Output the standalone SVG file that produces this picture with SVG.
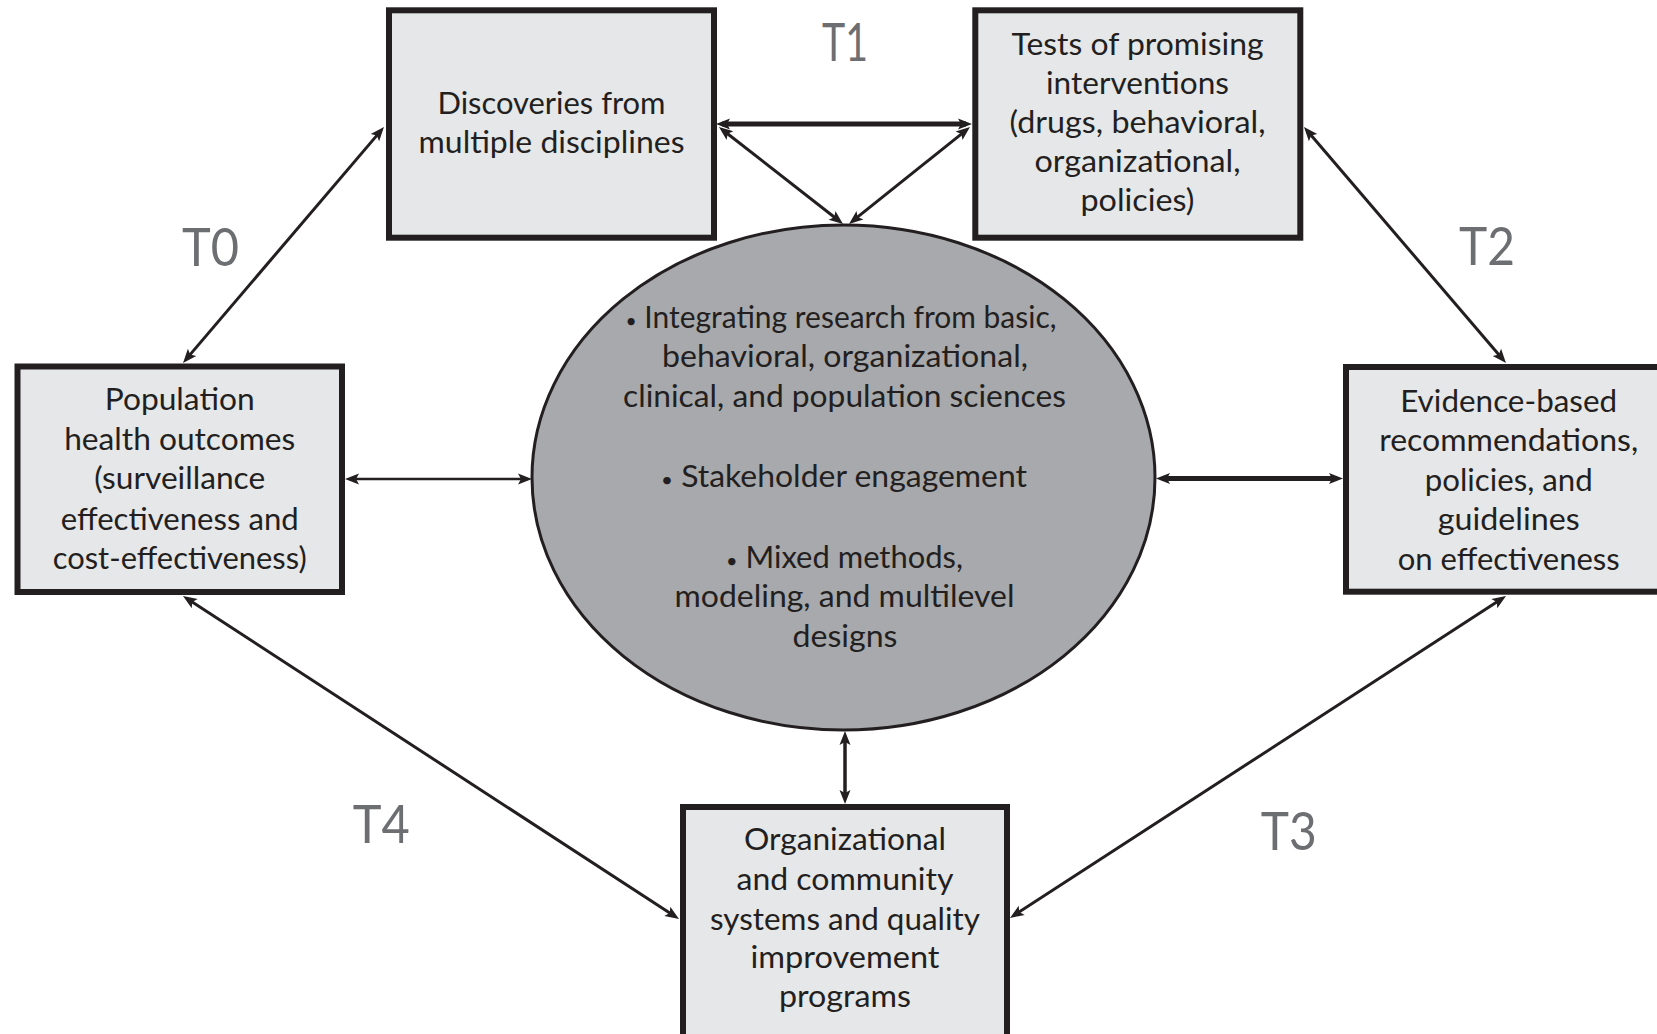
<svg xmlns="http://www.w3.org/2000/svg" width="1657" height="1034" viewBox="0 0 1657 1034">
  <style>
    .box { fill: #e6e7e8; stroke: #231f20; stroke-width: 6; }
    .hub { fill: #a7a9ac; stroke: #231f20; stroke-width: 3; }
    .lbl { font-family: Lato, "Open Sans", "Liberation Sans", sans-serif; font-size: 31px; fill: #231f20; text-anchor: middle; }
    .dot { font-size: 20px; }
    .phase { font-family: Lato, "Open Sans", "Liberation Sans", sans-serif; font-size: 53px; fill: #6d6e71; text-anchor: middle; }
    .link { stroke: #231f20; fill: none; marker-start: url(#tip); marker-end: url(#tip); }
  </style>
  <defs>
    <marker id="tip" markerUnits="userSpaceOnUse" viewBox="-9 -7 18 14" markerWidth="18" markerHeight="14" refX="0" refY="0" orient="auto-start-reverse">
      <path d="M6,0 L-8,-5.5 L-5,0 L-8,5.5 Z" fill="#231f20"/>
    </marker>
  </defs>
  <rect width="1657" height="1034" fill="#ffffff"/>

  <!-- connectors -->
  <g id="connectors">
    <line class="link" x1="722" y1="124" x2="966" y2="124" stroke-width="5"/>
    <line class="link" x1="723.7" y1="130.7" x2="838.3" y2="220.3" stroke-width="3"/>
    <line class="link" x1="965.3" y1="130.8" x2="853.7" y2="220.2" stroke-width="3"/>
    <line class="link" x1="380.1" y1="131.6" x2="186.9" y2="358.4" stroke-width="3"/>
    <line class="link" x1="1307.9" y1="131.6" x2="1502.1" y2="358.4" stroke-width="3"/>
    <line class="link" x1="351" y1="479" x2="526" y2="479" stroke-width="2.5"/>
    <line class="link" x1="1162" y1="478.5" x2="1337" y2="478.5" stroke-width="5"/>
    <line class="link" x1="845" y1="737" x2="845" y2="798" stroke-width="3.5"/>
    <line class="link" x1="188" y1="599.3" x2="674" y2="915.7" stroke-width="3"/>
    <line class="link" x1="1501" y1="599.3" x2="1015" y2="914.7" stroke-width="3"/>
  </g>

  <!-- phase labels -->
  <g id="phases">
    <text class="phase" x="210.5" y="266" textLength="57" lengthAdjust="spacingAndGlyphs">T0</text>
    <text class="phase" x="845" y="61" textLength="46" lengthAdjust="spacingAndGlyphs">T1</text>
    <text class="phase" x="1487" y="265" textLength="56" lengthAdjust="spacingAndGlyphs">T2</text>
    <text class="phase" x="1288.7" y="850" textLength="56" lengthAdjust="spacingAndGlyphs">T3</text>
    <text class="phase" x="381.3" y="843.3" textLength="57" lengthAdjust="spacingAndGlyphs">T4</text>
  </g>

  <!-- central hub -->
  <g id="hub">
    <ellipse class="hub" cx="843.5" cy="477.5" rx="311.5" ry="252.5"/>
    <text class="lbl" x="841" y="328.3" textLength="431" lengthAdjust="spacingAndGlyphs"><tspan class="dot">•</tspan> Integrating research from basic,</text>
    <text class="lbl" x="845" y="366.7" textLength="366" lengthAdjust="spacingAndGlyphs">behavioral, organizational,</text>
    <text class="lbl" x="844.5" y="406.7" textLength="443" lengthAdjust="spacingAndGlyphs">clinical, and population sciences</text>
    <text class="lbl" x="844" y="486.7" textLength="366" lengthAdjust="spacingAndGlyphs"><tspan class="dot">•</tspan> Stakeholder engagement</text>
    <text class="lbl" x="844.5" y="568" textLength="237" lengthAdjust="spacingAndGlyphs"><tspan class="dot">•</tspan> Mixed methods,</text>
    <text class="lbl" x="844.5" y="606.7" textLength="340" lengthAdjust="spacingAndGlyphs">modeling, and multilevel</text>
    <text class="lbl" x="845" y="646.7" textLength="105" lengthAdjust="spacingAndGlyphs">designs</text>
  </g>

  <g id="discoveries">
    <rect class="box" x="389" y="10.3" width="325" height="227.4"/>
    <text class="lbl" x="551.5" y="113.5" textLength="228" lengthAdjust="spacingAndGlyphs">Discoveries from</text>
    <text class="lbl" x="551.5" y="152.5" textLength="266" lengthAdjust="spacingAndGlyphs">multiple disciplines</text>
  </g>

  <g id="tests">
    <rect class="box" x="975.3" y="10.3" width="325" height="227.4"/>
    <text class="lbl" x="1137.5" y="54.5" textLength="252" lengthAdjust="spacingAndGlyphs">Tests of promising</text>
    <text class="lbl" x="1137.5" y="93.8" textLength="183" lengthAdjust="spacingAndGlyphs">interventions</text>
    <text class="lbl" x="1137.5" y="133.3" textLength="256" lengthAdjust="spacingAndGlyphs">(drugs, behavioral,</text>
    <text class="lbl" x="1137.5" y="171.5" textLength="206" lengthAdjust="spacingAndGlyphs">organizational,</text>
    <text class="lbl" x="1137.5" y="211" textLength="114" lengthAdjust="spacingAndGlyphs">policies)</text>
  </g>

  <g id="population">
    <rect class="box" x="17.5" y="366.5" width="324.5" height="225.5"/>
    <text class="lbl" x="179.7" y="410.3" textLength="150" lengthAdjust="spacingAndGlyphs">Population</text>
    <text class="lbl" x="179.7" y="449.8" textLength="231" lengthAdjust="spacingAndGlyphs">health outcomes</text>
    <text class="lbl" x="179.7" y="489.3" textLength="171" lengthAdjust="spacingAndGlyphs">(surveillance</text>
    <text class="lbl" x="179.7" y="529.7" textLength="238" lengthAdjust="spacingAndGlyphs">effectiveness and</text>
    <text class="lbl" x="179.7" y="569" textLength="254" lengthAdjust="spacingAndGlyphs">cost-effectiveness)</text>
  </g>

  <g id="evidence">
    <rect class="box" x="1346" y="367" width="325" height="224.7"/>
    <text class="lbl" x="1508.7" y="411.7" textLength="217" lengthAdjust="spacingAndGlyphs">Evidence-based</text>
    <text class="lbl" x="1508.7" y="451" textLength="259" lengthAdjust="spacingAndGlyphs">recommendations,</text>
    <text class="lbl" x="1508.7" y="490.7" textLength="168" lengthAdjust="spacingAndGlyphs">policies, and</text>
    <text class="lbl" x="1508.7" y="530" textLength="142" lengthAdjust="spacingAndGlyphs">guidelines</text>
    <text class="lbl" x="1508.7" y="570" textLength="222" lengthAdjust="spacingAndGlyphs">on effectiveness</text>
  </g>

  <g id="organizational">
    <rect class="box" x="683" y="807" width="324" height="232"/>
    <text class="lbl" x="845" y="850" textLength="202" lengthAdjust="spacingAndGlyphs">Organizational</text>
    <text class="lbl" x="845" y="890" textLength="217" lengthAdjust="spacingAndGlyphs">and community</text>
    <text class="lbl" x="845" y="930" textLength="270" lengthAdjust="spacingAndGlyphs">systems and quality</text>
    <text class="lbl" x="845" y="968" textLength="189" lengthAdjust="spacingAndGlyphs">improvement</text>
    <text class="lbl" x="845" y="1006.7" textLength="132" lengthAdjust="spacingAndGlyphs">programs</text>
  </g>
</svg>
